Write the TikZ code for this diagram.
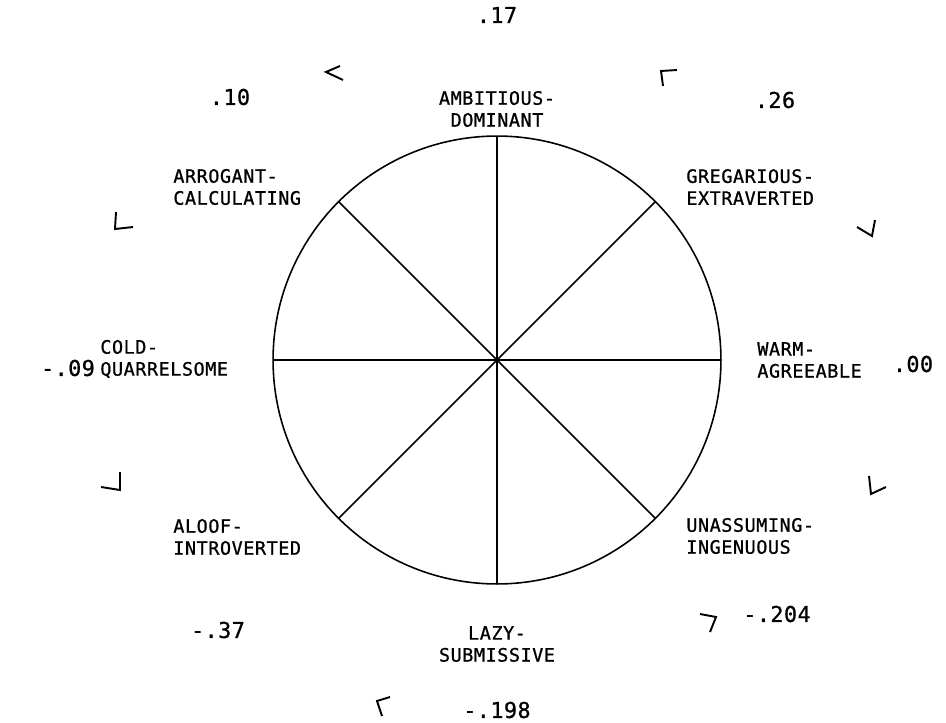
\documentclass[tikz,border=0pt]{standalone}
\usepackage{fontspec}
\newfontfamily\plotfont[LetterSpace=3,FakeBold=0.9]{DejaVu Sans Mono}
\newfontfamily\plotnum[LetterSpace=2,FakeBold=0.9]{DejaVu Sans Mono}
\usetikzlibrary{positioning}

\begin{document}
\begin{tikzpicture}[
    x=0.02cm, y=-0.02cm,
    lbl/.style={inner sep=0pt, font=\plotfont\fontsize{10.5}{12.5}\selectfont},
    lblc/.style={lbl, align=center},
    lbll/.style={lbl, align=left, anchor=west},
    val/.style={inner sep=0pt, font=\plotnum\fontsize{12.4}{14}\selectfont},
    dialbox/.style={circle, draw, line width=0.9pt, inner sep=0pt, outer sep=0pt,
                    minimum size=8.96cm},
    ring/.style={line width=0.9pt},
    tick/.style={line width=1.1pt}
]
\useasboundingbox (0,0) rectangle (946,723);

% The circle and its four diameters
\node[dialbox] (dial) at (497,360) {};
\foreach \a in {0,45,90,135}
    \draw[ring] (dial.\a) -- (dial.\a+180);

% Octant labels
\node[lblc] (ambit) at (497,109) {AMBITIOUS-\\DOMINANT};
\node[lbll] (arrog) at (173,187) {ARROGANT-\\CALCULATING};
\node[lbll] (greg)  at (686,187) {GREGARIOUS-\\EXTRAVERTED};
\node[lbll] (cold)  at (100,359) {COLD-\\QUARRELSOME};
\node[lbll] (warm)  at (757,360) {WARM-\\AGREEABLE};
\node[lbll] (aloof) at (173,537) {ALOOF-\\INTROVERTED};
\node[lbll] (unass) at (686,536) {UNASSUMING-\\INGENUOUS};
\node[lblc] (lazy)  at (497,644) {LAZY-\\SUBMISSIVE};

% Values round the outside
\node[val] (v17)  at (497,15)  {.17};
\node[val] (v10)  at (230,97)  {.10};
\node[val] (v26)  at (775,100) {.26};
\node[val] (v09)  at (68,368)  {-.09};
\node[val] (v00)  at (913,364) {.00};
\node[val] (v37)  at (218,630) {-.37};
\node[val] (v204) at (777,614) {-.204};
\node[val] (v198) at (497,710) {-.198};

% Corner marks
\draw[tick] (340,66) -- (326,72) -- (343,80);
\draw[tick] (663,86) -- (661,71) -- (677,70);
\draw[tick] (116,212) -- (115,229) -- (133,227);
\draw[tick] (857,227) -- (872,236) -- (875,220);
\draw[tick] (101,487) -- (120,490) -- (120,472);
\draw[tick] (869,476) -- (871,494) -- (886,487);
\draw[tick] (700,614) -- (716,617) -- (710,632);
\draw[tick] (390,697) -- (377,701) -- (382,716);
\end{tikzpicture}
\end{document}
